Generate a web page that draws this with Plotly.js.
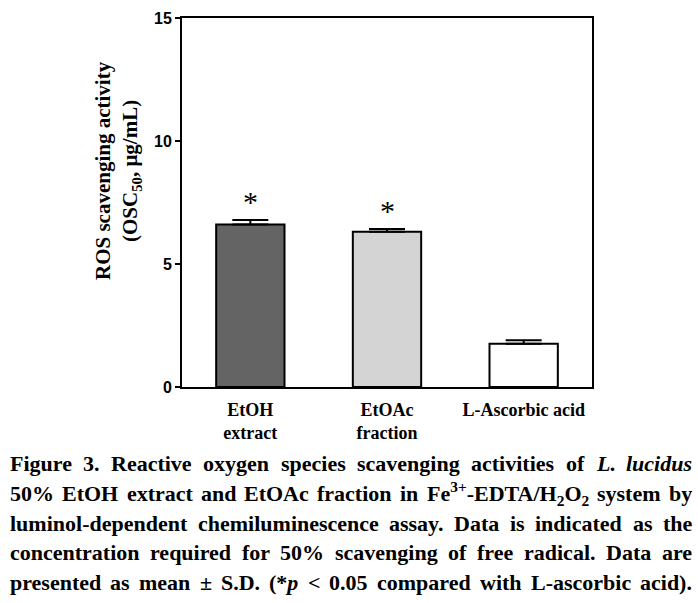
<!DOCTYPE html>
<html>
<head>
<meta charset="utf-8">
<script src="https://cdn.plot.ly/plotly-3.0.1.min.js"></script>
<style>html,body{margin:0;padding:0;background:#fff;}#chart{width:698px;height:603px;}</style>
</head>
<body>
<div id="chart"></div>
<script>
// ---- data ----
const categories = ['EtOH<br>extract', 'EtOAc<br>fraction', 'L-Ascorbic acid'];
const means = [6.61, 6.31, 1.76];
const sds = [0.18, 0.11, 0.14];
const significance = ['*', '*', ''];
const yTickValues = [0, 5, 10, 15];
const yTitle = 'ROS scavenging activity<br>(OSC<sub>50</sub>, μg/mL)';
const captionLines = [
  'Figure 3. Reactive oxygen species scavenging activities of <i>L.</i> <i>lucidus</i>',
  '50% EtOH extract and EtOAc fraction in Fe<sup>3+</sup>-EDTA/H<sub>2</sub>O<sub>2</sub> system by',
  'luminol-dependent chemiluminescence assay. Data is indicated as the',
  'concentration required for 50% scavenging of free radical. Data are',
  'presented as mean ± S.D. (*<i>p</i> &lt; 0.05 compared with L-ascorbic acid).'
];

// ---- styles ----
const barColors = ['#646464', '#d4d4d4', '#ffffff'];
const W = 698, H = 603;
const M = {l: 182, r: 106, t: 18, b: 216};
const plotW = W - M.l - M.r, plotH = H - M.t - M.b;
const px2x = x => (x - M.l) / plotW;
const px2y = y => (H - M.b - y) / plotH;

// caption justification via text measurement
const capFont = 'Liberation Serif';
const capSize = 22;
const capLeft = 8, capRight = 690;
const capY = [464, 493.5, 523, 552.5, 582];
const cv = document.createElement('canvas').getContext('2d');
function measureWord(w, size) {
  const txt = w.replace(/&lt;/g, '<').replace(/&gt;/g, '>');
  const parts = txt.split(/(<\/?(?:i|sub|sup)>)/);
  let italic = false, small = false, total = 0;
  for (const p of parts) {
    if (p === '<i>') { italic = true; continue; }
    if (p === '</i>') { italic = false; continue; }
    if (p === '<sub>' || p === '<sup>') { small = true; continue; }
    if (p === '</sub>' || p === '</sup>') { small = false; continue; }
    if (!p) continue;
    const sz = small ? size * 0.7 : size;
    cv.font = (italic ? 'italic ' : '') + 'bold ' + sz + 'px "' + capFont + '"';
    total += cv.measureText(p).width;
  }
  return total;
}

const annotations = [];
captionLines.forEach((line, li) => {
  const words = line.split(' ');
  let size = capSize, widths, sum, gap;
  // shrink a line slightly only if its words would not fit with a minimal gap
  for (;;) {
    widths = words.map(w => measureWord(w, size));
    sum = widths.reduce((a, b) => a + b, 0);
    gap = (capRight - capLeft - sum) / (words.length - 1);
    if (gap >= 4 || size <= 16) break;
    size -= 0.5;
  }
  let x = capLeft;
  words.forEach((w, i) => {
    annotations.push({
      text: w, xref: 'paper', yref: 'paper', x: px2x(x), y: px2y(capY[li]),
      xanchor: 'left', yanchor: 'middle', showarrow: false,
      font: {family: capFont, size: size, weight: 'bold', color: '#000'}
    });
    x += widths[i] + gap;
  });
});

// significance markers
categories.forEach((c, i) => {
  if (!significance[i]) return;
  annotations.push({
    text: significance[i], x: c, y: means[i] + sds[i], xref: 'x', yref: 'y',
    yanchor: 'bottom', yshift: 0, showarrow: false,
    font: {family: 'Liberation Serif', size: 30, color: '#000'}
  });
});

// y-axis title
annotations.push({
  text: yTitle, xref: 'paper', yref: 'paper', x: px2x(118), y: px2y(171),
  xanchor: 'center', yanchor: 'middle', textangle: -90, showarrow: false,
  font: {family: 'Liberation Serif', size: 21, weight: 'bold', color: '#000'}
});

const trace = {
  type: 'bar', x: categories, y: means, width: 0.5,
  marker: {color: barColors, line: {color: '#000', width: 2}},
  error_y: {type: 'data', array: sds, arrayminus: sds.map(() => 0), symmetric: false,
            color: '#000', thickness: 2, width: 18},
  hoverinfo: 'none'
};

const layout = {
  width: W, height: H, margin: M,
  paper_bgcolor: '#fff', plot_bgcolor: '#fff', showlegend: false,
  xaxis: {type: 'category', range: [-0.5, 2.5], showline: true, linecolor: '#000', linewidth: 2,
          mirror: true, ticks: '', showgrid: false, zeroline: false, ticklabelstandoff: 5,
          tickfont: {family: 'Liberation Serif', size: 18, weight: 'bold', color: '#000'}},
  yaxis: {range: [0, 15], tickvals: yTickValues, ticktext: yTickValues.map(String),
          showline: true, linecolor: '#000', linewidth: 2, mirror: true,
          ticks: 'outside', ticklen: 5, tickwidth: 2, tickcolor: '#000', ticklabelstandoff: 0,
          showgrid: false, zeroline: false,
          tickfont: {family: 'Liberation Sans', size: 16, weight: 'bold', color: '#000'}},
  annotations: annotations
};

Plotly.newPlot('chart', [trace], layout, {staticPlot: true});
</script>
</body>
</html>
